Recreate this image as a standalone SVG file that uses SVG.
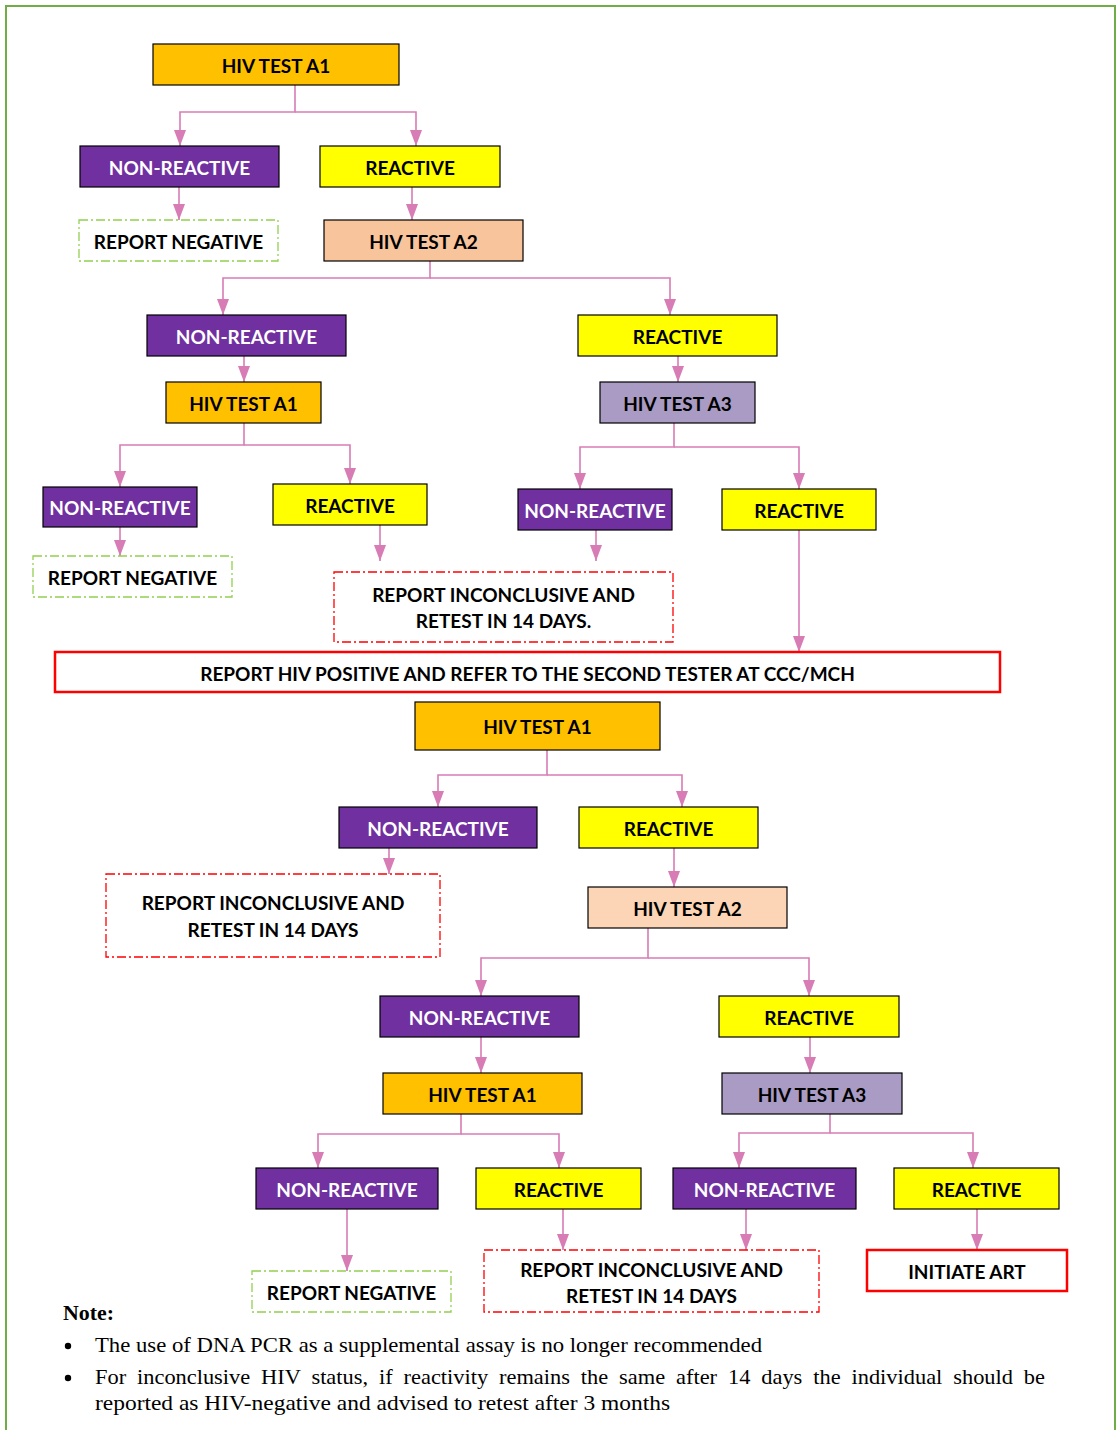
<svg xmlns="http://www.w3.org/2000/svg" width="1120" height="1430" viewBox="0 0 1120 1430">
<style>
.t{font-family:Lato,"Liberation Sans",sans-serif;font-weight:bold;font-size:19px;text-anchor:middle;dominant-baseline:central;fill:#000}
.w{fill:#fff}
.a1{fill:#FFC000;stroke:#000;stroke-width:1.2}
.nr{fill:#7030A0;stroke:#000;stroke-width:1.2}
.r{fill:#FFFF00;stroke:#000;stroke-width:1.2}
.a2{fill:#F8C49C;stroke:#000;stroke-width:1.2}
.a2b{fill:#FBD5B5;stroke:#000;stroke-width:1.2}
.a3{fill:#A99BC3;stroke:#000;stroke-width:1.2}
.neg{fill:#fff;stroke:#92D050;stroke-width:1.3;stroke-dasharray:9 3 2 3}
.inc{fill:#fff;stroke:#FF0000;stroke-width:1.3;stroke-dasharray:9 3 2 3}
.pos{fill:#fff;stroke:#FF0000;stroke-width:2.5}
.c{fill:none;stroke:#D77CB5;stroke-width:1.6}
.n{font-family:"Liberation Serif",serif;font-size:21px;fill:#000}
</style>
<rect x="6" y="6" width="1109" height="1440" fill="none" stroke="#70AD47" stroke-width="2"/>

<g id="connectors">
<path class="c" d="M295,85 V112 H180 V146"/>
<path class="c" d="M295,112 H416 V146"/>
<path class="c" d="M179,187 V220"/>
<path class="c" d="M412,187 V220"/>
<path class="c" d="M430,261 V278 H223 V315"/>
<path class="c" d="M430,278 H670 V315"/>
<path class="c" d="M244,356 V382"/>
<path class="c" d="M678,356 V382"/>
<path class="c" d="M244,423 V445 H120 V487"/>
<path class="c" d="M244,445 H350 V484"/>
<path class="c" d="M674,423 V447 H580 V489"/>
<path class="c" d="M674,447 H799 V489"/>
<path class="c" d="M120,527 V556"/>
<path class="c" d="M380,525 V561"/>
<path class="c" d="M596,530 V561"/>
<path class="c" d="M799,530 V652"/>
<path class="c" d="M547,750 V775 H438 V807"/>
<path class="c" d="M547,775 H682 V807"/>
<path class="c" d="M389,848 V874"/>
<path class="c" d="M674,848 V887"/>
<path class="c" d="M648,928 V958 H481 V996"/>
<path class="c" d="M648,958 H809 V996"/>
<path class="c" d="M481,1037 V1073"/>
<path class="c" d="M810,1037 V1073"/>
<path class="c" d="M461,1114 V1134 H318 V1168"/>
<path class="c" d="M461,1134 H559 V1168"/>
<path class="c" d="M830,1114 V1133 H739 V1168"/>
<path class="c" d="M830,1133 H973 V1168"/>
<path class="c" d="M347,1209 V1271"/>
<path class="c" d="M563,1209 V1250"/>
<path class="c" d="M746,1209 V1250"/>
<path class="c" d="M977,1209 V1250"/>
<g id="arrowheads" fill="#D77CB5">
<path d="M174,130 L186,130 L180,146 Z"/>
<path d="M410,130 L422,130 L416,146 Z"/>
<path d="M173,204 L185,204 L179,220 Z"/>
<path d="M406,204 L418,204 L412,220 Z"/>
<path d="M217,299 L229,299 L223,315 Z"/>
<path d="M664,299 L676,299 L670,315 Z"/>
<path d="M238,366 L250,366 L244,382 Z"/>
<path d="M672,366 L684,366 L678,382 Z"/>
<path d="M114,471 L126,471 L120,487 Z"/>
<path d="M344,468 L356,468 L350,484 Z"/>
<path d="M574,473 L586,473 L580,489 Z"/>
<path d="M793,473 L805,473 L799,489 Z"/>
<path d="M114,540 L126,540 L120,556 Z"/>
<path d="M374,545 L386,545 L380,561 Z"/>
<path d="M590,545 L602,545 L596,561 Z"/>
<path d="M793,636 L805,636 L799,652 Z"/>
<path d="M432,791 L444,791 L438,807 Z"/>
<path d="M676,791 L688,791 L682,807 Z"/>
<path d="M383,858 L395,858 L389,874 Z"/>
<path d="M668,871 L680,871 L674,887 Z"/>
<path d="M475,980 L487,980 L481,996 Z"/>
<path d="M803,980 L815,980 L809,996 Z"/>
<path d="M475,1057 L487,1057 L481,1073 Z"/>
<path d="M804,1057 L816,1057 L810,1073 Z"/>
<path d="M312,1152 L324,1152 L318,1168 Z"/>
<path d="M553,1152 L565,1152 L559,1168 Z"/>
<path d="M733,1152 L745,1152 L739,1168 Z"/>
<path d="M967,1152 L979,1152 L973,1168 Z"/>
<path d="M341,1255 L353,1255 L347,1271 Z"/>
<path d="M557,1234 L569,1234 L563,1250 Z"/>
<path d="M740,1234 L752,1234 L746,1250 Z"/>
<path d="M971,1234 L983,1234 L977,1250 Z"/>
</g>
</g>

<g id="n1"><rect class="a1" x="153" y="44" width="246" height="41"/><text class="t" x="276" y="65">HIV TEST A1</text></g>
<g id="n2"><rect class="nr" x="80" y="146" width="199" height="41"/><text class="t w" x="179.5" y="167">NON-REACTIVE</text></g>
<g id="n3"><rect class="r" x="320" y="146" width="180" height="41"/><text class="t" x="410" y="167">REACTIVE</text></g>
<g id="n4"><rect class="neg" x="79" y="220" width="199" height="41"/><text class="t" x="178.5" y="241">REPORT NEGATIVE</text></g>
<g id="n5"><rect class="a2" x="324" y="220" width="199" height="41"/><text class="t" x="423.5" y="241">HIV TEST A2</text></g>
<g id="n6"><rect class="nr" x="147" y="315" width="199" height="41"/><text class="t w" x="246.5" y="336">NON-REACTIVE</text></g>
<g id="n7"><rect class="r" x="578" y="315" width="199" height="41"/><text class="t" x="677.5" y="336">REACTIVE</text></g>
<g id="n8"><rect class="a1" x="166" y="382" width="155" height="41"/><text class="t" x="243.5" y="403">HIV TEST A1</text></g>
<g id="n9"><rect class="a3" x="600" y="382" width="155" height="41"/><text class="t" x="677.5" y="403">HIV TEST A3</text></g>
<g id="n10"><rect class="nr" x="43" y="487" width="154" height="40"/><text class="t w" x="120" y="507">NON-REACTIVE</text></g>
<g id="n11"><rect class="r" x="273" y="484" width="154" height="41"/><text class="t" x="350" y="505">REACTIVE</text></g>
<g id="n12"><rect class="nr" x="518" y="489" width="154" height="41"/><text class="t w" x="595" y="510">NON-REACTIVE</text></g>
<g id="n13"><rect class="r" x="722" y="489" width="154" height="41"/><text class="t" x="799" y="510">REACTIVE</text></g>
<g id="n14"><rect class="neg" x="33" y="556" width="199" height="41"/><text class="t" x="132.5" y="577">REPORT NEGATIVE</text></g>
<g id="n15"><rect class="inc" x="334" y="572" width="339" height="70"/><text class="t" x="503.5" y="594">REPORT INCONCLUSIVE AND</text><text class="t" x="503.5" y="620">RETEST IN 14 DAYS.</text></g>
<g id="n16"><rect class="pos" x="55" y="652" width="945" height="40"/><text class="t" x="527.5" y="673">REPORT HIV POSITIVE AND REFER TO THE SECOND TESTER AT CCC/MCH</text></g>
<g id="n17"><rect class="a1" x="415" y="702" width="245" height="48"/><text class="t" x="537.5" y="726">HIV TEST A1</text></g>
<g id="n18"><rect class="nr" x="339" y="807" width="198" height="41"/><text class="t w" x="438" y="828">NON-REACTIVE</text></g>
<g id="n19"><rect class="r" x="579" y="807" width="179" height="41"/><text class="t" x="668.5" y="828">REACTIVE</text></g>
<g id="n20"><rect class="inc" x="106" y="874" width="334" height="83"/><text class="t" x="273" y="902">REPORT INCONCLUSIVE AND</text><text class="t" x="273" y="929">RETEST IN 14 DAYS</text></g>
<g id="n21"><rect class="a2b" x="588" y="887" width="199" height="41"/><text class="t" x="687.5" y="908">HIV TEST A2</text></g>
<g id="n22"><rect class="nr" x="380" y="996" width="199" height="41"/><text class="t w" x="479.5" y="1017">NON-REACTIVE</text></g>
<g id="n23"><rect class="r" x="719" y="996" width="180" height="41"/><text class="t" x="809" y="1017">REACTIVE</text></g>
<g id="n24"><rect class="a1" x="383" y="1073" width="199" height="41"/><text class="t" x="482.5" y="1094">HIV TEST A1</text></g>
<g id="n25"><rect class="a3" x="722" y="1073" width="180" height="41"/><text class="t" x="812" y="1094">HIV TEST A3</text></g>
<g id="n26"><rect class="nr" x="256" y="1168" width="182" height="41"/><text class="t w" x="347" y="1189">NON-REACTIVE</text></g>
<g id="n27"><rect class="r" x="476" y="1168" width="165" height="41"/><text class="t" x="558.5" y="1189">REACTIVE</text></g>
<g id="n28"><rect class="nr" x="673" y="1168" width="183" height="41"/><text class="t w" x="764.5" y="1189">NON-REACTIVE</text></g>
<g id="n29"><rect class="r" x="894" y="1168" width="165" height="41"/><text class="t" x="976.5" y="1189">REACTIVE</text></g>
<g id="n30"><rect class="neg" x="252" y="1271" width="199" height="41"/><text class="t" x="351.5" y="1292">REPORT NEGATIVE</text></g>
<g id="n31"><rect class="inc" x="484" y="1250" width="335" height="62"/><text class="t" x="651.5" y="1269">REPORT INCONCLUSIVE AND</text><text class="t" x="651.5" y="1295">RETEST IN 14 DAYS</text></g>
<g id="n32"><rect class="pos" x="867" y="1250" width="200" height="41"/><text class="t" x="967" y="1271">INITIATE ART</text></g>

<g id="note">
<text class="n" x="63" y="1320" font-weight="bold" textLength="51" lengthAdjust="spacingAndGlyphs">Note:</text>
<circle cx="68" cy="1346" r="3.2" fill="#000"/>
<circle cx="68" cy="1378" r="3.2" fill="#000"/>
<text class="n" x="95" y="1352" textLength="667" lengthAdjust="spacingAndGlyphs">The use of DNA PCR as a supplemental assay is no longer recommended</text>
<text class="n" x="95" y="1384" word-spacing="5" textLength="950" lengthAdjust="spacingAndGlyphs">For inconclusive HIV status, if reactivity remains the same after 14 days the individual should be</text>
<text class="n" x="95" y="1410" textLength="575" lengthAdjust="spacingAndGlyphs">reported as HIV-negative and advised to retest after 3 months</text>
</g>
</svg>
